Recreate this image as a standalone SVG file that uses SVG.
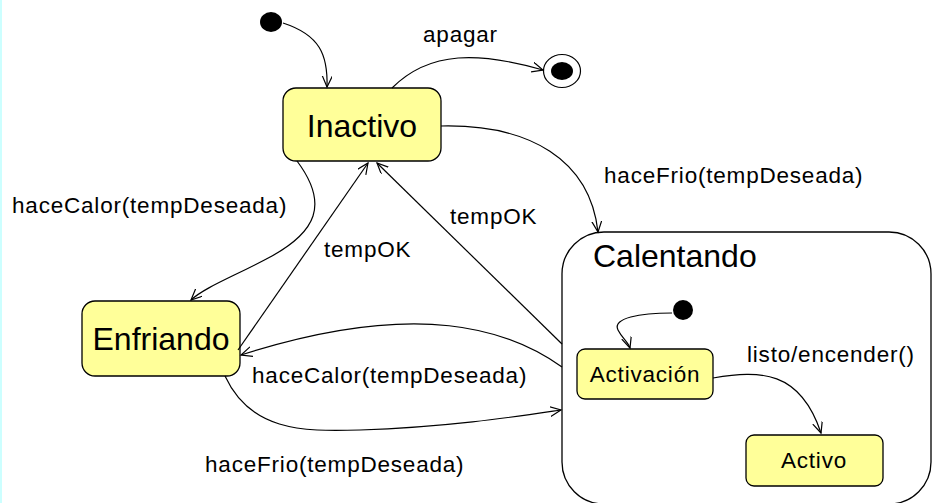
<svg xmlns="http://www.w3.org/2000/svg" width="933" height="503" viewBox="0 0 933 503">
<style>
text{font-family:"Liberation Sans",Arial,sans-serif;fill:#000}
.big{font-size:32px}
.lbl{font-size:22.5px;letter-spacing:0.8px}
.st{fill:#ffff99;stroke:#000;stroke-width:1.3}
.cn{fill:none;stroke:#000;stroke-width:1.2;marker-end:url(#ah)}
</style>
<defs>
<marker id="ah" markerWidth="14" markerHeight="12" refX="11" refY="5" orient="auto" markerUnits="userSpaceOnUse">
<path d="M0,0 L11,5 L0,10" fill="none" stroke="#000" stroke-width="1.2"/>
</marker>
</defs>
<rect x="0" y="0" width="933" height="503" fill="#fff"/>
<rect x="0" y="0" width="2" height="503" fill="#ccffff"/>

<g id="init">
<ellipse cx="271" cy="22" rx="11" ry="10" fill="#000"/>
</g>
<g id="final">
<ellipse cx="562" cy="71" rx="18.5" ry="16.5" fill="#fff" stroke="#000" stroke-width="1.2"/>
<ellipse cx="562" cy="71" rx="11" ry="9" fill="#000"/>
</g>
<g id="inactivo">
<rect class="st" x="283" y="88" width="158" height="73" rx="13"/>
<text class="big" x="362" y="137" text-anchor="middle">Inactivo</text>
</g>
<g id="enfriando">
<rect class="st" x="82" y="301" width="158" height="75" rx="13"/>
<text class="big" x="161" y="350" text-anchor="middle">Enfriando</text>
</g>
<g id="calentando">
<rect x="562" y="232" width="369" height="272" rx="42" fill="#fff" stroke="#000" stroke-width="1.3"/>
<text class="big" x="593" y="267">Calentando</text>
</g>
<g id="init2">
<circle cx="683" cy="310" r="10" fill="#000"/>
</g>
<g id="activacion">
<rect class="st" x="577" y="349" width="136" height="50" rx="8"/>
<text class="lbl" x="645" y="382" text-anchor="middle">Activación</text>
</g>
<g id="activo">
<rect class="st" x="746" y="435" width="137" height="51" rx="8"/>
<text class="lbl" x="814" y="468" text-anchor="middle">Activo</text>
</g>

<g id="connectors">
<path class="cn" d="M283,23 C320,35 328,55 327,87"/>
<path class="cn" d="M392,88 C430,50 480,52 543,70"/>
<path class="cn" d="M441,126 C530,124 590,160 598,232"/>
<path class="cn" d="M297,161 C330,205 315,232 272,256 C235,276 205,287 191,300"/>
<path class="cn" d="M238,350 L368,163"/>
<path class="cn" d="M562,344 L377,163"/>
<path class="cn" d="M562,367 C510,330 420,298 241,355"/>
<path class="cn" d="M225,376 C250,430 300,432 360,430 C450,427 520,416 561,410"/>
<path class="cn" d="M672,313 C640,313 612,318 618,330 C622,338 628,342 630,348"/>
<path class="cn" d="M713,378 C760,370 800,370 821,433"/>
</g>

<g id="labels">
<text class="lbl" x="423" y="42">apagar</text>
<text class="lbl" x="604" y="183">haceFrio(tempDeseada)</text>
<text class="lbl" x="12" y="213">haceCalor(tempDeseada)</text>
<text class="lbl" x="450" y="224">tempOK</text>
<text class="lbl" x="324" y="257">tempOK</text>
<text class="lbl" x="252" y="383">haceCalor(tempDeseada)</text>
<text class="lbl" x="205" y="472">haceFrio(tempDeseada)</text>
<text class="lbl" x="747" y="362">listo/encender()</text>
</g>
</svg>
